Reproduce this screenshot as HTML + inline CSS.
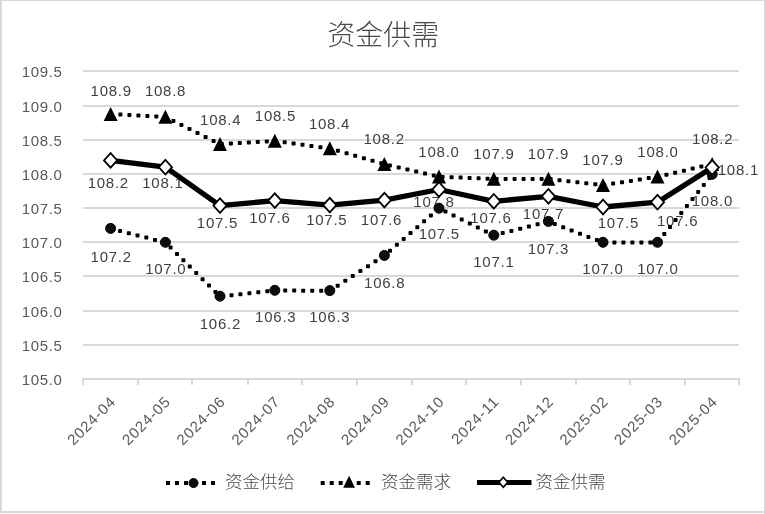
<!DOCTYPE html>
<html><head><meta charset="utf-8"><style>
html,body{margin:0;padding:0;background:#fff;}
svg{display:block;will-change:transform;}
svg text{font-family:"Liberation Sans", "Noto Sans CJK SC", sans-serif;}
</style></head><body>
<svg width="766" height="514" viewBox="0 0 766 514">
<rect x="0" y="0" width="766" height="514" fill="#fff"/>
<g fill="#d9d9d9"><rect x="0" y="0" width="766" height="1"/><rect x="0" y="0" width="2" height="513"/><rect x="764" y="0" width="2" height="514"/><rect x="0" y="511" width="766" height="2"/></g>
<rect x="83" y="70" width="656.0" height="2" fill="#d9d9d9"/>
<rect x="83" y="105" width="656.0" height="2" fill="#d9d9d9"/>
<rect x="83" y="139" width="656.0" height="2" fill="#d9d9d9"/>
<rect x="83" y="173" width="656.0" height="2" fill="#d9d9d9"/>
<rect x="83" y="207" width="656.0" height="2" fill="#d9d9d9"/>
<rect x="83" y="241" width="656.0" height="2" fill="#d9d9d9"/>
<rect x="83" y="275" width="656.0" height="2" fill="#d9d9d9"/>
<rect x="83" y="310" width="656.0" height="2" fill="#d9d9d9"/>
<rect x="83" y="344" width="656.0" height="2" fill="#d9d9d9"/>
<rect x="83" y="378" width="656.0" height="2" fill="#d9d9d9"/>
<rect x="82" y="378" width="2" height="7" fill="#d9d9d9"/>
<rect x="137" y="378" width="2" height="7" fill="#d9d9d9"/>
<rect x="191" y="378" width="2" height="7" fill="#d9d9d9"/>
<rect x="247" y="378" width="2" height="7" fill="#d9d9d9"/>
<rect x="301" y="378" width="2" height="7" fill="#d9d9d9"/>
<rect x="356" y="378" width="2" height="7" fill="#d9d9d9"/>
<rect x="411" y="378" width="2" height="7" fill="#d9d9d9"/>
<rect x="465" y="378" width="2" height="7" fill="#d9d9d9"/>
<rect x="520" y="378" width="2" height="7" fill="#d9d9d9"/>
<rect x="575" y="378" width="2" height="7" fill="#d9d9d9"/>
<rect x="629" y="378" width="2" height="7" fill="#d9d9d9"/>
<rect x="684" y="378" width="2" height="7" fill="#d9d9d9"/>
<rect x="738" y="378" width="2" height="7" fill="#d9d9d9"/>
<text x="62.40" y="76.8" text-anchor="end" fill="#595959" font-size="15" letter-spacing="0.6">109.5</text>
<text x="62.40" y="111.8" text-anchor="end" fill="#595959" font-size="15" letter-spacing="0.6">109.0</text>
<text x="62.40" y="145.8" text-anchor="end" fill="#595959" font-size="15" letter-spacing="0.6">108.5</text>
<text x="62.40" y="179.8" text-anchor="end" fill="#595959" font-size="15" letter-spacing="0.6">108.0</text>
<text x="62.40" y="213.8" text-anchor="end" fill="#595959" font-size="15" letter-spacing="0.6">107.5</text>
<text x="62.40" y="247.8" text-anchor="end" fill="#595959" font-size="15" letter-spacing="0.6">107.0</text>
<text x="62.40" y="281.8" text-anchor="end" fill="#595959" font-size="15" letter-spacing="0.6">106.5</text>
<text x="62.40" y="316.8" text-anchor="end" fill="#595959" font-size="15" letter-spacing="0.6">106.0</text>
<text x="62.40" y="350.8" text-anchor="end" fill="#595959" font-size="15" letter-spacing="0.6">105.5</text>
<text x="62.40" y="384.8" text-anchor="end" fill="#595959" font-size="15" letter-spacing="0.6">105.0</text>
<text transform="translate(116.2,403.2) rotate(-45)" x="0.9" text-anchor="end" fill="#595959" font-size="15" letter-spacing="0.9">2024-04</text>
<text transform="translate(171.0,403.2) rotate(-45)" x="0.9" text-anchor="end" fill="#595959" font-size="15" letter-spacing="0.9">2024-05</text>
<text transform="translate(225.6,403.2) rotate(-45)" x="0.9" text-anchor="end" fill="#595959" font-size="15" letter-spacing="0.9">2024-06</text>
<text transform="translate(280.4,403.2) rotate(-45)" x="0.9" text-anchor="end" fill="#595959" font-size="15" letter-spacing="0.9">2024-07</text>
<text transform="translate(335.4,403.2) rotate(-45)" x="0.9" text-anchor="end" fill="#595959" font-size="15" letter-spacing="0.9">2024-08</text>
<text transform="translate(390.0,403.2) rotate(-45)" x="0.9" text-anchor="end" fill="#595959" font-size="15" letter-spacing="0.9">2024-09</text>
<text transform="translate(444.6,403.2) rotate(-45)" x="0.9" text-anchor="end" fill="#595959" font-size="15" letter-spacing="0.9">2024-10</text>
<text transform="translate(499.4,403.2) rotate(-45)" x="0.9" text-anchor="end" fill="#595959" font-size="15" letter-spacing="0.9">2024-11</text>
<text transform="translate(554.0,403.2) rotate(-45)" x="0.9" text-anchor="end" fill="#595959" font-size="15" letter-spacing="0.9">2024-12</text>
<text transform="translate(608.6,403.2) rotate(-45)" x="0.9" text-anchor="end" fill="#595959" font-size="15" letter-spacing="0.9">2025-02</text>
<text transform="translate(663.1,403.2) rotate(-45)" x="0.9" text-anchor="end" fill="#595959" font-size="15" letter-spacing="0.9">2025-03</text>
<text transform="translate(717.8,403.2) rotate(-45)" x="0.9" text-anchor="end" fill="#595959" font-size="15" letter-spacing="0.9">2025-04</text>
<text x="111.22" y="95.7" text-anchor="middle" fill="#404040" font-size="15" letter-spacing="0.75">108.9</text>
<text x="165.53" y="96.0" text-anchor="middle" fill="#404040" font-size="15" letter-spacing="0.75">108.8</text>
<text x="220.72" y="124.6" text-anchor="middle" fill="#404040" font-size="15" letter-spacing="0.75">108.4</text>
<text x="275.48" y="121.1" text-anchor="middle" fill="#404040" font-size="15" letter-spacing="0.75">108.5</text>
<text x="329.57" y="128.9" text-anchor="middle" fill="#404040" font-size="15" letter-spacing="0.75">108.4</text>
<text x="384.17" y="143.8" text-anchor="middle" fill="#404040" font-size="15" letter-spacing="0.75">108.2</text>
<text x="439.02" y="157.3" text-anchor="middle" fill="#404040" font-size="15" letter-spacing="0.75">108.0</text>
<text x="493.93" y="159.0" text-anchor="middle" fill="#404040" font-size="15" letter-spacing="0.75">107.9</text>
<text x="548.38" y="159.3" text-anchor="middle" fill="#404040" font-size="15" letter-spacing="0.75">107.9</text>
<text x="602.98" y="165.0" text-anchor="middle" fill="#404040" font-size="15" letter-spacing="0.75">107.9</text>
<text x="658.02" y="157.3" text-anchor="middle" fill="#404040" font-size="15" letter-spacing="0.75">108.0</text>
<text x="712.73" y="143.7" text-anchor="middle" fill="#404040" font-size="15" letter-spacing="0.75">108.2</text>
<text x="108.33" y="187.8" text-anchor="middle" fill="#404040" font-size="15" letter-spacing="0.75">108.2</text>
<text x="162.93" y="188.0" text-anchor="middle" fill="#404040" font-size="15" letter-spacing="0.75">108.1</text>
<text x="217.48" y="227.6" text-anchor="middle" fill="#404040" font-size="15" letter-spacing="0.75">107.5</text>
<text x="269.93" y="222.8" text-anchor="middle" fill="#404040" font-size="15" letter-spacing="0.75">107.6</text>
<text x="326.82" y="225.2" text-anchor="middle" fill="#404040" font-size="15" letter-spacing="0.75">107.5</text>
<text x="381.52" y="225.2" text-anchor="middle" fill="#404040" font-size="15" letter-spacing="0.75">107.6</text>
<text x="433.98" y="206.8" text-anchor="middle" fill="#404040" font-size="15" letter-spacing="0.75">107.8</text>
<text x="490.98" y="223.4" text-anchor="middle" fill="#404040" font-size="15" letter-spacing="0.75">107.6</text>
<text x="543.48" y="218.7" text-anchor="middle" fill="#404040" font-size="15" letter-spacing="0.75">107.7</text>
<text x="618.38" y="228.0" text-anchor="middle" fill="#404040" font-size="15" letter-spacing="0.75">107.5</text>
<text x="677.62" y="225.5" text-anchor="middle" fill="#404040" font-size="15" letter-spacing="0.75">107.6</text>
<text x="738.38" y="175.3" text-anchor="middle" fill="#404040" font-size="15" letter-spacing="0.75">108.1</text>
<text x="111.22" y="261.6" text-anchor="middle" fill="#404040" font-size="15" letter-spacing="0.75">107.2</text>
<text x="165.82" y="273.9" text-anchor="middle" fill="#404040" font-size="15" letter-spacing="0.75">107.0</text>
<text x="220.43" y="328.5" text-anchor="middle" fill="#404040" font-size="15" letter-spacing="0.75">106.2</text>
<text x="275.77" y="322.2" text-anchor="middle" fill="#404040" font-size="15" letter-spacing="0.75">106.3</text>
<text x="329.82" y="321.9" text-anchor="middle" fill="#404040" font-size="15" letter-spacing="0.75">106.3</text>
<text x="384.73" y="287.7" text-anchor="middle" fill="#404040" font-size="15" letter-spacing="0.75">106.8</text>
<text x="439.33" y="239.4" text-anchor="middle" fill="#404040" font-size="15" letter-spacing="0.75">107.5</text>
<text x="493.93" y="266.7" text-anchor="middle" fill="#404040" font-size="15" letter-spacing="0.75">107.1</text>
<text x="548.38" y="253.8" text-anchor="middle" fill="#404040" font-size="15" letter-spacing="0.75">107.3</text>
<text x="602.98" y="273.9" text-anchor="middle" fill="#404040" font-size="15" letter-spacing="0.75">107.0</text>
<text x="657.88" y="273.9" text-anchor="middle" fill="#404040" font-size="15" letter-spacing="0.75">107.0</text>
<text x="712.42" y="206.0" text-anchor="middle" fill="#404040" font-size="15" letter-spacing="0.75">108.0</text>
<g fill="#000"><rect x="118.1" y="229.0" width="4" height="4" rx="0.8"/><rect x="126.8" y="231.2" width="4" height="4" rx="0.8"/><rect x="135.5" y="233.4" width="4" height="4" rx="0.8"/><rect x="144.3" y="235.6" width="4" height="4" rx="0.8"/><rect x="153.0" y="237.9" width="4" height="4" rx="0.8"/><rect x="161.7" y="240.1" width="4" height="4" rx="0.8"/><rect x="168.6" y="245.6" width="4" height="4" rx="0.8"/><rect x="175.0" y="251.9" width="4" height="4" rx="0.8"/><rect x="181.4" y="258.2" width="4" height="4" rx="0.8"/><rect x="187.8" y="264.6" width="4" height="4" rx="0.8"/><rect x="194.2" y="270.9" width="4" height="4" rx="0.8"/><rect x="200.6" y="277.2" width="4" height="4" rx="0.8"/><rect x="207.0" y="283.5" width="4" height="4" rx="0.8"/><rect x="213.4" y="289.9" width="4" height="4" rx="0.8"/><rect x="220.5" y="294.1" width="4" height="4" rx="0.8"/><rect x="229.5" y="293.2" width="4" height="4" rx="0.8"/><rect x="238.4" y="292.2" width="4" height="4" rx="0.8"/><rect x="247.4" y="291.2" width="4" height="4" rx="0.8"/><rect x="256.3" y="290.3" width="4" height="4" rx="0.8"/><rect x="265.3" y="289.3" width="4" height="4" rx="0.8"/><rect x="274.2" y="288.5" width="4" height="4" rx="0.8"/><rect x="283.2" y="288.6" width="4" height="4" rx="0.8"/><rect x="292.2" y="288.6" width="4" height="4" rx="0.8"/><rect x="301.2" y="288.7" width="4" height="4" rx="0.8"/><rect x="310.2" y="288.7" width="4" height="4" rx="0.8"/><rect x="319.2" y="288.8" width="4" height="4" rx="0.8"/><rect x="328.2" y="288.6" width="4" height="4" rx="0.8"/><rect x="335.7" y="283.7" width="4" height="4" rx="0.8"/><rect x="343.3" y="278.8" width="4" height="4" rx="0.8"/><rect x="350.8" y="273.9" width="4" height="4" rx="0.8"/><rect x="358.4" y="269.1" width="4" height="4" rx="0.8"/><rect x="366.0" y="264.2" width="4" height="4" rx="0.8"/><rect x="373.5" y="259.3" width="4" height="4" rx="0.8"/><rect x="381.1" y="254.4" width="4" height="4" rx="0.8"/><rect x="388.0" y="248.7" width="4" height="4" rx="0.8"/><rect x="394.9" y="242.8" width="4" height="4" rx="0.8"/><rect x="401.7" y="236.9" width="4" height="4" rx="0.8"/><rect x="408.5" y="231.1" width="4" height="4" rx="0.8"/><rect x="415.3" y="225.2" width="4" height="4" rx="0.8"/><rect x="422.1" y="219.3" width="4" height="4" rx="0.8"/><rect x="428.9" y="213.4" width="4" height="4" rx="0.8"/><rect x="435.7" y="207.5" width="4" height="4" rx="0.8"/><rect x="443.5" y="209.6" width="4" height="4" rx="0.8"/><rect x="451.6" y="213.6" width="4" height="4" rx="0.8"/><rect x="459.7" y="217.6" width="4" height="4" rx="0.8"/><rect x="467.8" y="221.6" width="4" height="4" rx="0.8"/><rect x="475.8" y="225.5" width="4" height="4" rx="0.8"/><rect x="483.9" y="229.5" width="4" height="4" rx="0.8"/><rect x="492.0" y="233.4" width="4" height="4" rx="0.8"/><rect x="500.7" y="231.1" width="4" height="4" rx="0.8"/><rect x="509.4" y="228.9" width="4" height="4" rx="0.8"/><rect x="518.2" y="226.7" width="4" height="4" rx="0.8"/><rect x="526.9" y="224.5" width="4" height="4" rx="0.8"/><rect x="535.6" y="222.3" width="4" height="4" rx="0.8"/><rect x="544.3" y="220.1" width="4" height="4" rx="0.8"/><rect x="552.8" y="222.1" width="4" height="4" rx="0.8"/><rect x="561.2" y="225.3" width="4" height="4" rx="0.8"/><rect x="569.6" y="228.5" width="4" height="4" rx="0.8"/><rect x="578.0" y="231.7" width="4" height="4" rx="0.8"/><rect x="586.4" y="234.9" width="4" height="4" rx="0.8"/><rect x="594.9" y="238.1" width="4" height="4" rx="0.8"/><rect x="603.4" y="240.5" width="4" height="4" rx="0.8"/><rect x="612.4" y="240.5" width="4" height="4" rx="0.8"/><rect x="621.4" y="240.5" width="4" height="4" rx="0.8"/><rect x="630.4" y="240.5" width="4" height="4" rx="0.8"/><rect x="639.4" y="240.5" width="4" height="4" rx="0.8"/><rect x="648.4" y="240.5" width="4" height="4" rx="0.8"/><rect x="656.7" y="239.0" width="4" height="4" rx="0.8"/><rect x="662.3" y="232.0" width="4" height="4" rx="0.8"/><rect x="668.0" y="225.0" width="4" height="4" rx="0.8"/><rect x="673.6" y="218.0" width="4" height="4" rx="0.8"/><rect x="679.3" y="211.0" width="4" height="4" rx="0.8"/><rect x="684.9" y="203.9" width="4" height="4" rx="0.8"/><rect x="690.5" y="196.9" width="4" height="4" rx="0.8"/><rect x="696.2" y="189.9" width="4" height="4" rx="0.8"/><rect x="701.8" y="182.9" width="4" height="4" rx="0.8"/><rect x="707.5" y="175.9" width="4" height="4" rx="0.8"/></g>
<g fill="#000"><rect x="118.4" y="112.6" width="4" height="4" rx="0.8"/><rect x="127.4" y="113.1" width="4" height="4" rx="0.8"/><rect x="136.4" y="113.5" width="4" height="4" rx="0.8"/><rect x="145.4" y="114.0" width="4" height="4" rx="0.8"/><rect x="154.3" y="114.4" width="4" height="4" rx="0.8"/><rect x="163.3" y="114.9" width="4" height="4" rx="0.8"/><rect x="171.4" y="118.9" width="4" height="4" rx="0.8"/><rect x="179.4" y="122.9" width="4" height="4" rx="0.8"/><rect x="187.5" y="126.9" width="4" height="4" rx="0.8"/><rect x="195.5" y="131.0" width="4" height="4" rx="0.8"/><rect x="203.6" y="135.0" width="4" height="4" rx="0.8"/><rect x="211.6" y="139.0" width="4" height="4" rx="0.8"/><rect x="219.9" y="142.1" width="4" height="4" rx="0.8"/><rect x="228.9" y="141.5" width="4" height="4" rx="0.8"/><rect x="237.8" y="141.0" width="4" height="4" rx="0.8"/><rect x="246.8" y="140.5" width="4" height="4" rx="0.8"/><rect x="255.8" y="139.9" width="4" height="4" rx="0.8"/><rect x="264.8" y="139.4" width="4" height="4" rx="0.8"/><rect x="273.8" y="139.0" width="4" height="4" rx="0.8"/><rect x="282.7" y="140.3" width="4" height="4" rx="0.8"/><rect x="291.6" y="141.5" width="4" height="4" rx="0.8"/><rect x="300.5" y="142.7" width="4" height="4" rx="0.8"/><rect x="309.4" y="144.0" width="4" height="4" rx="0.8"/><rect x="318.4" y="145.2" width="4" height="4" rx="0.8"/><rect x="327.3" y="146.4" width="4" height="4" rx="0.8"/><rect x="335.9" y="148.8" width="4" height="4" rx="0.8"/><rect x="344.6" y="151.3" width="4" height="4" rx="0.8"/><rect x="353.2" y="153.8" width="4" height="4" rx="0.8"/><rect x="361.9" y="156.3" width="4" height="4" rx="0.8"/><rect x="370.5" y="158.8" width="4" height="4" rx="0.8"/><rect x="379.2" y="161.3" width="4" height="4" rx="0.8"/><rect x="387.9" y="163.5" width="4" height="4" rx="0.8"/><rect x="396.7" y="165.5" width="4" height="4" rx="0.8"/><rect x="405.4" y="167.5" width="4" height="4" rx="0.8"/><rect x="414.2" y="169.5" width="4" height="4" rx="0.8"/><rect x="423.0" y="171.6" width="4" height="4" rx="0.8"/><rect x="431.8" y="173.6" width="4" height="4" rx="0.8"/><rect x="440.6" y="174.9" width="4" height="4" rx="0.8"/><rect x="449.6" y="175.3" width="4" height="4" rx="0.8"/><rect x="458.6" y="175.6" width="4" height="4" rx="0.8"/><rect x="467.6" y="176.0" width="4" height="4" rx="0.8"/><rect x="476.6" y="176.3" width="4" height="4" rx="0.8"/><rect x="485.6" y="176.7" width="4" height="4" rx="0.8"/><rect x="494.6" y="176.9" width="4" height="4" rx="0.8"/><rect x="503.6" y="176.9" width="4" height="4" rx="0.8"/><rect x="512.6" y="176.9" width="4" height="4" rx="0.8"/><rect x="521.6" y="176.9" width="4" height="4" rx="0.8"/><rect x="530.6" y="176.9" width="4" height="4" rx="0.8"/><rect x="539.6" y="176.9" width="4" height="4" rx="0.8"/><rect x="548.6" y="177.1" width="4" height="4" rx="0.8"/><rect x="557.5" y="178.2" width="4" height="4" rx="0.8"/><rect x="566.4" y="179.2" width="4" height="4" rx="0.8"/><rect x="575.4" y="180.2" width="4" height="4" rx="0.8"/><rect x="584.3" y="181.2" width="4" height="4" rx="0.8"/><rect x="593.3" y="182.2" width="4" height="4" rx="0.8"/><rect x="602.2" y="182.9" width="4" height="4" rx="0.8"/><rect x="611.1" y="181.6" width="4" height="4" rx="0.8"/><rect x="620.0" y="180.2" width="4" height="4" rx="0.8"/><rect x="628.9" y="178.9" width="4" height="4" rx="0.8"/><rect x="637.8" y="177.5" width="4" height="4" rx="0.8"/><rect x="646.7" y="176.1" width="4" height="4" rx="0.8"/><rect x="655.6" y="174.8" width="4" height="4" rx="0.8"/><rect x="664.4" y="172.7" width="4" height="4" rx="0.8"/><rect x="673.1" y="170.7" width="4" height="4" rx="0.8"/><rect x="681.9" y="168.7" width="4" height="4" rx="0.8"/><rect x="690.7" y="166.6" width="4" height="4" rx="0.8"/><rect x="699.4" y="164.6" width="4" height="4" rx="0.8"/><rect x="708.2" y="162.6" width="4" height="4" rx="0.8"/></g>
<polyline points="110.6,160.4 165.4,167.2 220.0,205.6 274.8,200.6 329.8,205.1 384.4,200.1 439.0,189.5 493.8,201.3 548.4,196.3 603.0,207.0 657.5,202.2 712.2,167.5" fill="none" stroke="#000" stroke-width="5.3" stroke-linejoin="round"/>
<circle cx="110.6" cy="228.4" r="5" fill="#0d0d0d" stroke="#000" stroke-width="1"/>
<circle cx="165.4" cy="242.3" r="5" fill="#0d0d0d" stroke="#000" stroke-width="1"/>
<circle cx="220.0" cy="296.2" r="5" fill="#0d0d0d" stroke="#000" stroke-width="1"/>
<circle cx="274.8" cy="290.3" r="5" fill="#0d0d0d" stroke="#000" stroke-width="1"/>
<circle cx="329.8" cy="290.6" r="5" fill="#0d0d0d" stroke="#000" stroke-width="1"/>
<circle cx="384.4" cy="255.4" r="5" fill="#0d0d0d" stroke="#000" stroke-width="1"/>
<circle cx="439.0" cy="208.2" r="5" fill="#0d0d0d" stroke="#000" stroke-width="1"/>
<circle cx="493.8" cy="235.2" r="5" fill="#0d0d0d" stroke="#000" stroke-width="1"/>
<circle cx="548.4" cy="221.4" r="5" fill="#0d0d0d" stroke="#000" stroke-width="1"/>
<circle cx="603.0" cy="242.3" r="5" fill="#0d0d0d" stroke="#000" stroke-width="1"/>
<circle cx="657.5" cy="242.3" r="5" fill="#0d0d0d" stroke="#000" stroke-width="1"/>
<circle cx="712.2" cy="174.3" r="5" fill="#0d0d0d" stroke="#000" stroke-width="1"/>
<polygon points="110.6,106.9 117.6,120.9 103.6,120.9" fill="#000"/>
<polygon points="165.4,109.7 172.4,123.7 158.4,123.7" fill="#000"/>
<polygon points="220.0,137.0 227.0,151.0 213.0,151.0" fill="#000"/>
<polygon points="274.8,133.7 281.8,147.7 267.8,147.7" fill="#000"/>
<polygon points="329.8,141.3 336.8,155.3 322.8,155.3" fill="#000"/>
<polygon points="384.4,157.0 391.4,171.0 377.4,171.0" fill="#000"/>
<polygon points="439.0,169.6 446.0,183.6 432.0,183.6" fill="#000"/>
<polygon points="493.8,171.7 500.8,185.7 486.8,185.7" fill="#000"/>
<polygon points="548.4,171.7 555.4,185.7 541.4,185.7" fill="#000"/>
<polygon points="603.0,177.9 610.0,191.9 596.0,191.9" fill="#000"/>
<polygon points="657.5,169.6 664.5,183.6 650.5,183.6" fill="#000"/>
<polygon points="712.2,156.9 719.2,170.9 705.2,170.9" fill="#000"/>
<polygon points="110.6,153.1 117.2,160.4 110.6,167.7 104.0,160.4" fill="#fff" stroke="#000" stroke-width="1.8"/>
<polygon points="165.4,159.9 172.0,167.2 165.4,174.5 158.8,167.2" fill="#fff" stroke="#000" stroke-width="1.8"/>
<polygon points="220.0,198.3 226.6,205.6 220.0,212.9 213.4,205.6" fill="#fff" stroke="#000" stroke-width="1.8"/>
<polygon points="274.8,193.3 281.4,200.6 274.8,207.9 268.2,200.6" fill="#fff" stroke="#000" stroke-width="1.8"/>
<polygon points="329.8,197.8 336.4,205.1 329.8,212.4 323.2,205.1" fill="#fff" stroke="#000" stroke-width="1.8"/>
<polygon points="384.4,192.8 391.0,200.1 384.4,207.4 377.8,200.1" fill="#fff" stroke="#000" stroke-width="1.8"/>
<polygon points="439.0,182.2 445.6,189.5 439.0,196.8 432.4,189.5" fill="#fff" stroke="#000" stroke-width="1.8"/>
<polygon points="493.8,194.0 500.4,201.3 493.8,208.6 487.2,201.3" fill="#fff" stroke="#000" stroke-width="1.8"/>
<polygon points="548.4,189.0 555.0,196.3 548.4,203.6 541.8,196.3" fill="#fff" stroke="#000" stroke-width="1.8"/>
<polygon points="603.0,199.7 609.6,207.0 603.0,214.3 596.4,207.0" fill="#fff" stroke="#000" stroke-width="1.8"/>
<polygon points="657.5,194.9 664.1,202.2 657.5,209.5 650.9,202.2" fill="#fff" stroke="#000" stroke-width="1.8"/>
<polygon points="712.2,160.2 718.8,167.5 712.2,174.8 705.6,167.5" fill="#fff" stroke="#000" stroke-width="1.8"/>
<text x="383.2" y="44.6" text-anchor="middle" fill="#4a4a4a" font-size="28" font-weight="300">资金供需</text>
<g fill="#000"><rect x="166" y="481" width="4" height="4"/><rect x="175" y="481" width="4" height="4"/><rect x="184" y="481" width="4" height="4"/><rect x="193" y="481" width="4" height="4"/><rect x="202" y="481" width="4" height="4"/><rect x="211" y="481" width="4" height="4"/></g>
<circle cx="193.5" cy="483.0" r="4.5" fill="#0d0d0d" stroke="#000" stroke-width="1"/>
<text x="225" y="488" fill="#4a4a4a" font-size="17.5" font-weight="300">资金供给</text>
<g fill="#000"><rect x="320.7" y="481" width="4" height="4"/><rect x="329.7" y="481" width="4" height="4"/><rect x="338.7" y="481" width="4" height="4"/><rect x="347.7" y="481" width="4" height="4"/><rect x="356.7" y="481" width="4" height="4"/><rect x="365.7" y="481" width="4" height="4"/></g>
<polygon points="349.1,475.8 355,487.7 343.2,487.7" fill="#000"/>
<text x="381" y="488" fill="#4a4a4a" font-size="17.5" font-weight="300">资金需求</text>
<line x1="477" y1="482.5" x2="531.5" y2="482.5" stroke="#000" stroke-width="5"/>
<polygon points="503.3,477.2 507.7,482.2 503.3,487.2 498.9,482.2" fill="#fff" stroke="#000" stroke-width="1.6"/>
<text x="535.5" y="488" fill="#4a4a4a" font-size="17.5" font-weight="300">资金供需</text>
</svg>
</body></html>
